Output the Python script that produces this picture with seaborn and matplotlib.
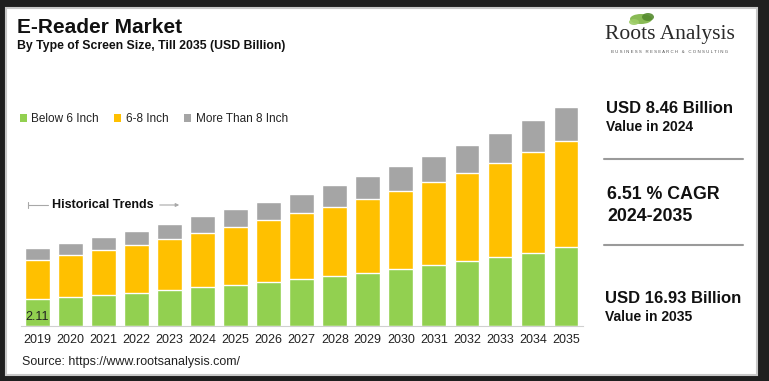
import matplotlib
matplotlib.use("Agg")
import matplotlib.pyplot as plt
import seaborn as sns
from matplotlib.patches import Rectangle, Patch, Ellipse, FancyArrowPatch
from matplotlib.lines import Line2D

# Datos (USD Billion)
years = [str(y) for y in range(2019, 2036)]
below_6 = [2.11, 2.24, 2.37, 2.55, 2.78, 2.99, 3.19, 3.40, 3.60, 3.83, 4.11,
           4.37, 4.71, 4.99, 5.30, 5.66, 6.10]
inch_6_8 = [3.01, 3.24, 3.50, 3.70, 3.94, 4.21, 4.43, 4.78, 5.09, 5.37, 5.71,
            6.06, 6.38, 6.84, 7.30, 7.77, 8.18]
above_8 = [0.90, 0.95, 0.98, 1.08, 1.16, 1.26, 1.41, 1.41, 1.49, 1.65, 1.77,
           1.88, 2.05, 2.14, 2.31, 2.45, 2.65]
series_names = ["Below 6 Inch", "6-8 Inch", "More Than 8 Inch"]
colors = ["#92D050", "#FFC000", "#A5A5A5"]

sns.set_style("white")
plt.rcParams["font.family"] = ["Liberation Sans", "DejaVu Sans"]

W, H = 769, 381
fig = plt.figure(figsize=(W / 100, H / 100), dpi=100)
fig.patch.set_facecolor("#1f1f1f")


def fx(x):
    return x / W


def fy(y):
    return 1 - y / H


# Panel blanco con borde
fig.patches.append(Rectangle((fx(6), fy(375)), fx(757) - fx(6), fy(8) - fy(375),
                             transform=fig.transFigure, facecolor="white",
                             edgecolor="#c8c8c8", linewidth=1.5, zorder=-5))

# Barras apiladas
ax = fig.add_axes([fx(21), fy(326), fx(582.5) - fx(21), fy(92.7) - fy(326)])
ax.set_facecolor("none")
tot = [a + b + c for a, b, c in zip(below_6, inch_6_8, above_8)]
mid = [a + b for a, b in zip(below_6, inch_6_8)]
for vals, col in [(tot, colors[2]), (mid, colors[1]), (below_6, colors[0])]:
    sns.barplot(x=years, y=vals, color=col, saturation=1, width=0.75,
                edgecolor="white", linewidth=1, ax=ax)
ax.set_ylim(0, 18)
ax.set_xlim(-0.5, 16.5)
ax.set_yticks([])
ax.set_xlabel("")
ax.set_ylabel("")
sns.despine(ax=ax, left=True)
ax.spines["bottom"].set_color("#d0d0d0")
ax.tick_params(axis="x", length=0, pad=5.5, labelsize=9, labelcolor="#222222")
ax.text(0, 0.7, "2.11", ha="center", va="center", fontsize=9, color="#222222")

# Leyenda
handles = [Patch(facecolor=c, edgecolor="none") for c in colors]
fig.legend(handles, series_names, loc="center left",
           bbox_to_anchor=(fx(9), fy(119)), ncol=3, frameon=False,
           fontsize=8.5, handlelength=0.6, handleheight=0.6,
           handletextpad=0.4, columnspacing=1.3, labelcolor="#222222")

# Titulos
fig.text(fx(17), fy(33.3), "E-Reader Market", fontsize=15, fontweight="bold",
         color="#111111", va="baseline")
fig.text(fx(17), fy(49), "By Type of Screen Size, Till 2035 (USD Billion)",
         fontsize=8.8, fontweight="bold", color="#111111", va="baseline")

# Historical Trends
gcol = "#a8a8a8"
fig.add_artist(Line2D([fx(28), fx(28)], [fy(202), fy(208)], color=gcol, lw=0.8))
fig.add_artist(Line2D([fx(28), fx(48)], [fy(205), fy(205)], color=gcol, lw=0.8))
fig.text(fx(52), fy(205), "Historical Trends", fontsize=9, fontweight="bold",
         color="#111111", va="center")
fig.add_artist(FancyArrowPatch(
    (fx(157), fy(205)), (fx(182), fy(205)), transform=fig.transFigure,
    arrowstyle="-|>", mutation_scale=5, color=gcol, lw=0.8))

# Panel derecho
fig.text(fx(606), fy(112.7), "USD 8.46 Billion", fontsize=12,
         fontweight="bold", color="#111111", va="baseline")
fig.text(fx(606), fy(130.7), "Value in 2024", fontsize=10, fontweight="bold",
         color="#111111", va="baseline")
fig.add_artist(Line2D([fx(604), fx(743)], [fy(159), fy(159)], color="#9a9a9a", lw=1.5))
fig.text(fx(607), fy(199.3), "6.51 % CAGR", fontsize=12.8, fontweight="bold",
         color="#111111", va="baseline")
fig.text(fx(607), fy(220.7), "2024-2035", fontsize=12.8, fontweight="bold",
         color="#111111", va="baseline")
fig.add_artist(Line2D([fx(604), fx(743)], [fy(245), fy(245)], color="#9a9a9a", lw=1.5))
fig.text(fx(605), fy(302.7), "USD 16.93 Billion", fontsize=12,
         fontweight="bold", color="#111111", va="baseline")
fig.text(fx(605), fy(320.7), "Value in 2035", fontsize=10, fontweight="bold",
         color="#111111", va="baseline")

# Logo
for cx, cy, w, h, c in [(641, 19, 22, 10, "#7cb342"), (634, 22, 10, 6, "#9ccc65"),
                        (648, 17, 12, 8, "#558b2f")]:
    fig.patches.append(Ellipse((fx(cx), fy(cy)), fx(w), fy(0) - fy(h),
                               transform=fig.transFigure, facecolor=c,
                               edgecolor="none", alpha=0.9))
fig.text(fx(670), fy(39), "Roots Analysis", fontsize=15.5,
         family=["Liberation Serif", "DejaVu Serif"], color="#2a2a2a",
         ha="center", va="baseline")
fig.text(fx(670), fy(52), "B U S I N E S S   R E S E A R C H   &   C O N S U L T I N G",
         fontsize=3.2, color="#555555", ha="center", va="center")

# Fuente
fig.text(fx(22), fy(364.5), "Source: https://www.rootsanalysis.com/", fontsize=9,
         color="#222222", va="baseline")

fig.savefig("out.png", dpi=100, facecolor=fig.get_facecolor())
